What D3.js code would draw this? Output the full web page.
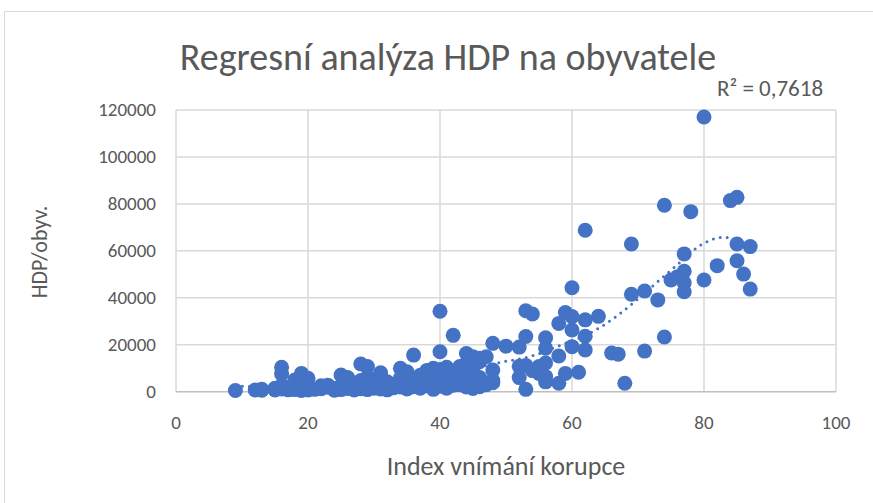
<!DOCTYPE html>
<html>
<head>
<meta charset="utf-8">
<script src="https://cdn.jsdelivr.net/npm/d3@7"></script>
<style>
  body { margin: 0; background: #fff; }
  text { font-family: "Carlito", "Liberation Sans Narrow", "Roboto Condensed", "Roboto", sans-serif; fill: #595959; }
</style>
</head>
<body>
<div id="chart"></div>
<script>
// values (x = index vnímání korupce, y = HDP/obyv.)
var cpi = [9, 12, 13, 13, 15, 15, 16, 16, 16, 16, 17, 17, 18, 18, 18, 18, 19, 19, 19, 19,
    20, 20, 20, 20, 21, 22, 22, 23, 23, 24, 24, 25, 25, 25, 26, 26, 26, 27, 27,
    28, 28, 28, 28, 29, 29, 29, 29, 30, 30, 30, 31, 31, 31, 32, 32, 32, 33, 33,
    34, 34, 34, 35, 35, 35, 35, 36, 36, 36, 37, 37, 37, 38, 38, 38, 39, 39, 39,
    40, 40, 40, 40, 40, 41, 41, 41, 41, 42, 42, 42, 42, 43, 43, 43,
    44, 44, 44, 44, 44, 45, 45, 45, 45, 46, 46, 46, 46, 47, 47, 48, 48, 48, 48,
    50, 52, 52, 52, 53, 53, 53, 53, 54, 54, 55, 55, 56, 56, 56, 56, 56,
    58, 58, 58, 59, 59, 60, 60, 60, 60, 61, 62, 62, 62, 62, 64, 66, 67, 68,
    69, 69, 71, 71, 73, 74, 74, 75, 76, 77, 77, 77, 77, 78, 80, 80, 82,
    84, 85, 85, 85, 86, 87, 87];
var hdp = [500, 700, 1000, 600, 700, 1500, 10400, 7600, 1200, 2500, 1800, 800, 5000, 2000, 900, 3500, 7800, 1200, 3000, 500,
    5700, 1500, 2600, 700, 1000, 2500, 1300, 2800, 1900, 1500, 600, 7100, 2000, 900, 6000, 1400, 3300, 1800, 700,
    11800, 3000, 1300, 4800, 10700, 2200, 6200, 900, 3600, 1500, 5000, 8100, 2600, 1200, 3300, 800, 4200, 1700, 2500,
    10000, 5800, 2000, 8500, 3000, 1200, 6000, 15600, 4500, 2100, 7000, 1500, 3800, 5500, 2500, 9000, 10000, 4000, 1000,
    34300, 17000, 7000, 2300, 9500, 10400, 3500, 5500, 1500, 24000, 6000, 2800, 8700, 10700, 4800, 3000,
    16300, 7800, 2000, 12000, 5000, 14900, 1400, 9000, 4500, 12800, 2100, 14200, 6000, 14900, 3000, 20600, 9200, 4700, 3800,
    19400, 19000, 10800, 6000, 34500, 23500, 11200, 1000, 33100, 9000, 10700, 7800, 23000, 18500, 12200, 6400, 4200,
    29100, 15200, 3600, 33700, 7800, 44300, 32000, 26300, 19200, 8300, 68800, 30600, 23600, 17800, 32100, 16500, 16000, 3600,
    62900, 41500, 42900, 17300, 39100, 79400, 23300, 47600, 49000, 58700, 51300, 46400, 42600, 76700, 117000, 47600, 53700,
    81400, 82800, 62900, 55800, 50100, 61800, 43700];

// polynomial trendline as drawn in the picture
var trendX = [9, 15, 20, 25, 30, 35, 40, 45, 49, 54, 58, 63, 66, 69, 73, 76, 79, 81, 83, 85, 87];
var trendY = [2500, 1800, 1500, 1800, 2600, 3800, 5800, 10000, 12400, 15300, 19500, 25400, 30600, 37200, 46900, 54200, 61500, 64600, 65800, 64600, 61500];

var xTicks = [0, 20, 40, 60, 80, 100];
var yTicks = [0, 20000, 40000, 60000, 80000, 100000, 120000];

var data = cpi.map(function (d, i) { return { x: d, y: hdp[i] }; });
var trend = trendX.map(function (d, i) { return { x: d, y: trendY[i] }; });

var width = 873, height = 503;
var margin = { top: 110, right: 37, bottom: 111.3, left: 176 };

var svg = d3.select("#chart")
    .append("svg")
    .attr("width", width)
    .attr("height", height);

// chart frame
svg.append("rect")
    .attr("x", 4.5).attr("y", 11.5)
    .attr("width", 900).attr("height", 600)
    .attr("fill", "none")
    .attr("stroke", "#d9d9d9")
    .attr("stroke-width", 1);

var x = d3.scaleLinear()
    .domain([0, 100])
    .range([margin.left, width - margin.right]);
var y = d3.scaleLinear()
    .domain([0, 120000])
    .range([height - margin.bottom, margin.top]);

// grid
svg.append("g")
    .selectAll("line")
    .data(xTicks)
    .enter()
    .append("line")
    .attr("x1", function (d) { return x(d); })
    .attr("x2", function (d) { return x(d); })
    .attr("y1", y(120000))
    .attr("y2", y(0))
    .attr("stroke", "#d9d9d9")
    .attr("stroke-width", 1.5);

svg.append("g")
    .selectAll("line")
    .data(yTicks.slice(1))
    .enter()
    .append("line")
    .attr("x1", x(0))
    .attr("x2", x(100))
    .attr("y1", function (d) { return y(d); })
    .attr("y2", function (d) { return y(d); })
    .attr("stroke", "#d9d9d9")
    .attr("stroke-width", 1.5);

// x axis line
svg.append("line")
    .attr("x1", x(0)).attr("x2", x(100))
    .attr("y1", y(0)).attr("y2", y(0))
    .attr("stroke", "#bfbfbf")
    .attr("stroke-width", 1.5);

// tick labels
svg.append("g")
    .selectAll("text")
    .data(xTicks)
    .enter()
    .append("text")
    .attr("x", function (d) { return x(d); })
    .attr("y", 429)
    .attr("text-anchor", "middle")
    .style("font-size", "19px")
    .text(function (d) { return d; });

svg.append("g")
    .selectAll("text")
    .data(yTicks)
    .enter()
    .append("text")
    .attr("x", 156)
    .attr("y", function (d) { return y(d) + 6; })
    .attr("text-anchor", "end")
    .style("font-size", "19px")
    .text(function (d) { return d; });

// trendline (dotted) under the markers
svg.append("path")
    .datum(trend)
    .attr("fill", "none")
    .attr("stroke", "#4472C4")
    .attr("stroke-width", 3)
    .attr("stroke-linecap", "round")
    .attr("stroke-dasharray", "0 7")
    .attr("d", d3.line()
        .curve(d3.curveMonotoneX)
        .x(function (d) { return x(d.x); })
        .y(function (d) { return y(d.y); })
    );

svg.append("g")
    .selectAll("circle")
    .data(data)
    .enter()
    .append("circle")
    .attr("cx", function (d) { return x(d.x); })
    .attr("cy", function (d) { return y(d.y); })
    .attr("r", 7.5)
    .attr("fill", "#4472C4");

// titles
svg.append("text")
    .attr("x", 448)
    .attr("y", 70)
    .attr("text-anchor", "middle")
    .style("font-size", "38px")
    .text("Regresní analýza HDP na obyvatele");

svg.append("text")
    .attr("x", 717)
    .attr("y", 96)
    .style("font-size", "23px")
    .text("R² = 0,7618");

svg.append("text")
    .attr("x", 506)
    .attr("y", 475)
    .attr("text-anchor", "middle")
    .style("font-size", "26px")
    .text("Index vnímání korupce");

svg.append("text")
    .attr("transform", "translate(47,252) rotate(-90)")
    .attr("text-anchor", "middle")
    .style("font-size", "22px")
    .text("HDP/obyv.");
</script>
</body>
</html>
